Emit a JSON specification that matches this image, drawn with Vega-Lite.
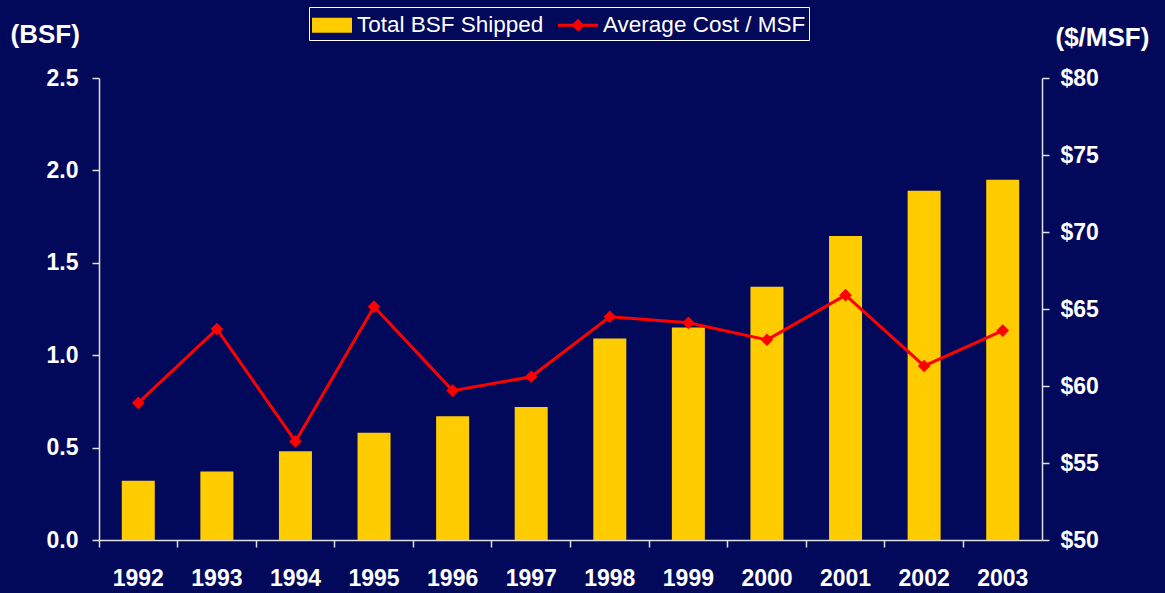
{
  "$schema": "https://vega.github.io/schema/vega-lite/v6.json",
  "width": 943,
  "height": 462,
  "autosize": {"type": "none"},
  "padding": {"left": 99, "top": 78, "right": 123, "bottom": 53},
  "background": "#03095a",
  "config": {
    "view": {"stroke": null},
    "font": "Liberation Sans",
    "axis": {
      "domainColor": "#e0e0e0", "domainWidth": 1.5,
      "tickColor": "#e0e0e0", "tickWidth": 1.5, "tickSize": 7,
      "labelColor": "#ffffff", "labelFont": "Liberation Sans", "labelFontWeight": "bold", "labelFontSize": 23,
      "titleColor": "#ffffff", "titleFont": "Liberation Sans", "titleFontWeight": "bold", "titleFontSize": 26,
      "grid": false
    }
  },
  "data": {"values": [
    {"year": "1992", "bsf": 0.32, "cost": 58.9},
    {"year": "1993", "bsf": 0.37, "cost": 63.7},
    {"year": "1994", "bsf": 0.48, "cost": 56.4},
    {"year": "1995", "bsf": 0.58, "cost": 65.15},
    {"year": "1996", "bsf": 0.67, "cost": 59.7},
    {"year": "1997", "bsf": 0.72, "cost": 60.6},
    {"year": "1998", "bsf": 1.09, "cost": 64.5},
    {"year": "1999", "bsf": 1.15, "cost": 64.1},
    {"year": "2000", "bsf": 1.37, "cost": 63.0},
    {"year": "2001", "bsf": 1.645, "cost": 65.9},
    {"year": "2002", "bsf": 1.89, "cost": 61.3},
    {"year": "2003", "bsf": 1.95, "cost": 63.6}
  ]},
  "encoding": {
    "x": {
      "field": "year", "type": "nominal", "sort": null,
      "scale": {"paddingInner": 0.58, "paddingOuter": 0.29},
      "axis": {"title": null, "labelAngle": 0, "bandPosition": -0.69, "labelBaseline": "alphabetic", "labelPadding": 38}
    }
  },
  "layer": [
    {
      "mark": {"type": "bar"},
      "encoding": {
        "y": {
          "field": "bsf", "type": "quantitative",
          "scale": {"domain": [0, 2.5]},
          "axis": {
            "title": "(BSF)", "values": [0, 0.5, 1, 1.5, 2, 2.5], "format": ".1f",
            "titleAngle": 0, "titleAlign": "left", "titleBaseline": "alphabetic",
            "titleX": -89, "titleY": -36, "labelPadding": 14
          }
        },
        "color": {
          "datum": "Total BSF Shipped",
          "scale": {"domain": ["Total BSF Shipped", "Average Cost / MSF"], "range": ["#ffcc00", "#ff0000"]},
          "legend": {
            "title": null, "orient": "none", "legendX": 210, "legendY": -71,
            "direction": "horizontal",
            "strokeColor": "#ffffff", "fillColor": "#03095a",
            "padding": 3, "columnPadding": 14, "labelOffset": 15,
            "symbolSize": 900,
            "labelColor": "#ffffff", "labelFont": "Liberation Sans", "labelFontSize": 22.5, "labelFontWeight": "normal",
            "labelLimit": 300,
            "encode": {
              "symbols": {
                "update": {
                  "shape": {"signal": "datum.value === 'Total BSF Shipped' ? 'M-1,-0.5H1.667V0.5H-1Z' : 'M-1,-0.1H1.667V0.1H-1Z M-0.093,0L0.333,-0.427L0.76,0L0.333,0.427Z'"},
                  "fill": {"signal": "datum.value === 'Total BSF Shipped' ? '#ffcc00' : '#ff0000'"},
                  "stroke": {"value": "transparent"},
                  "strokeWidth": {"value": 0},
                  "fillOpacity": {"value": 1},
                  "opacity": {"value": 1}
                }
              }
            }
          }
        }
      }
    },
    {
      "mark": {"type": "line", "strokeWidth": 3, "point": {"shape": "diamond", "size": 160, "filled": true, "color": "#ff0000", "opacity": 1}},
      "encoding": {
        "y": {
          "field": "cost", "type": "quantitative",
          "scale": {"domain": [50, 80]},
          "axis": {
            "orient": "right", "title": "($/MSF)", "values": [50, 55, 60, 65, 70, 75, 80], "format": "$.0f",
            "titleAngle": 0, "titleAlign": "left", "titleBaseline": "alphabetic",
            "titleX": 13, "titleY": -33, "labelPadding": 11
          }
        },
        "color": {"datum": "Average Cost / MSF"}
      }
    }
  ],
  "resolve": {"scale": {"y": "independent"}}
}
